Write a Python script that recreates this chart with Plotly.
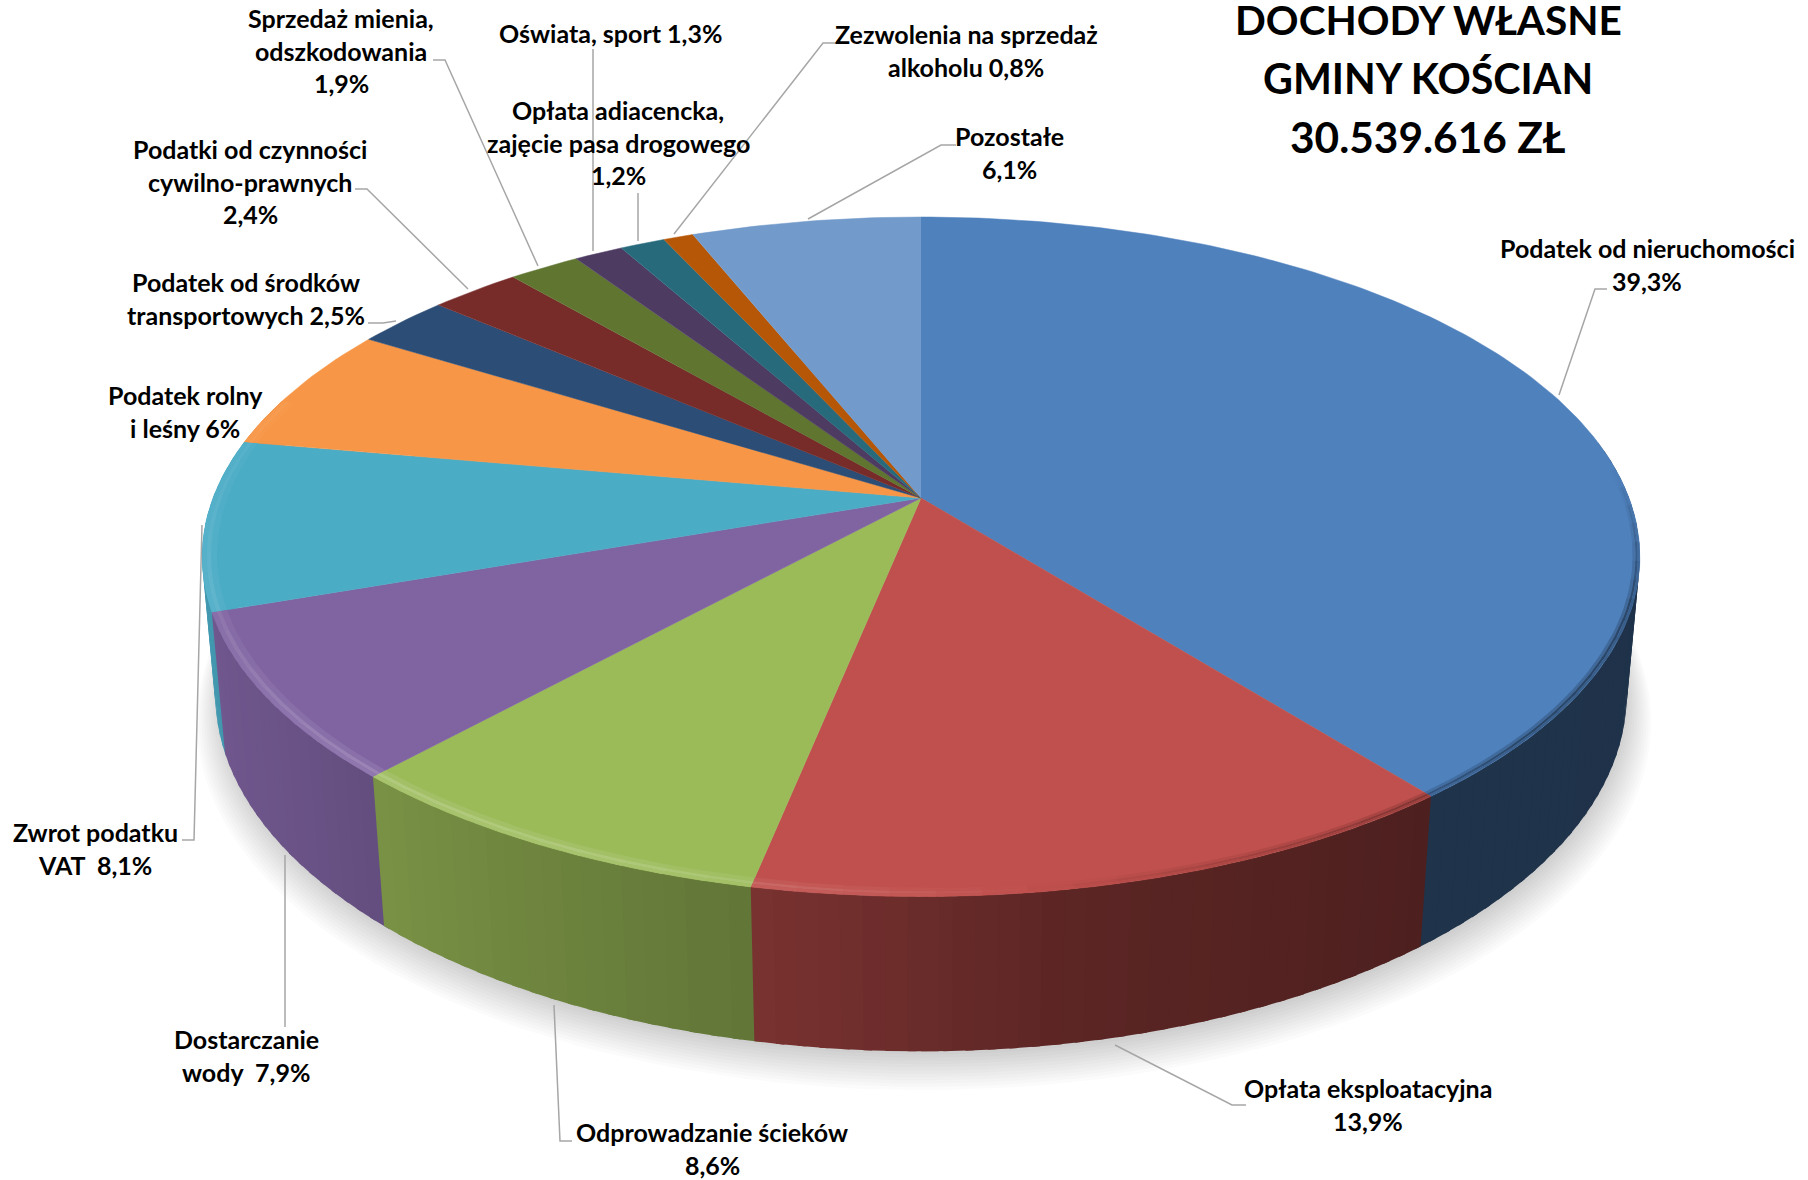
import numpy as np
import plotly.graph_objects as go

categories = ["Podatek od nieruchomości", "Opłata eksploatacyjna", "Odprowadzanie ścieków",
              "Dostarczanie wody", "Zwrot podatku VAT", "Podatek rolny i leśny",
              "Podatek od środków transportowych", "Podatki od czynności cywilno-prawnych",
              "Sprzedaż mienia, odszkodowania", "Oświata, sport",
              "Opłata adiacencka, zajęcie pasa drogowego", "Zezwolenia na sprzedaż alkoholu", "Pozostałe"]
values = [39.3, 13.9, 8.6, 7.9, 8.1, 6.0, 2.5, 2.4, 1.9, 1.3, 1.2, 0.8, 6.1]
colors = ["#4F81BD", "#C0504D", "#9BBB59", "#8064A2", "#4BACC6", "#F79646", "#2C4D75",
          "#772C2A", "#5F7530", "#4D3B62", "#276A7C", "#B65708", "#729ACA"]
title_lines = ["DOCHODY WŁASNE", "GMINY KOŚCIAN", "30.539.616 ZŁ"]
label_lines = [
    ["Podatek od nieruchomości", "39,3%"], ["Opłata eksploatacyjna", "13,9%"],
    ["Odprowadzanie ścieków", "8,6%"], ["Dostarczanie", "wody  7,9%"],
    ["Zwrot podatku", "VAT  8,1%"], ["Podatek rolny", "i leśny 6%"],
    ["Podatek od środków", "transportowych 2,5%"], ["Podatki od czynności", "cywilno-prawnych", "2,4%"],
    ["Sprzedaż mienia,", "odszkodowania", "1,9%"], ["Oświata, sport 1,3%"],
    ["Opłata adiacencka,", "zajęcie pasa drogowego", "1,2%"], ["Zezwolenia na sprzedaż", "alkoholu 0,8%"],
    ["Pozostałe", "6,1%"]]

# ---- layout only (page pixels) ----
label_x = [1647, 1368, 712, 246, 95, 185, 246, 250, 341, 610, 618, 966, 1009]
label_y0 = [248, 1088, 1132, 1039, 832, 395, 282, 149, 18, 33, 110, 34, 136]
LINE_H = 32.5
title_x = [1428, 1428, 1428]
title_y = [19.5, 78, 136]
title_size = [40.6, 41.2, 42.4]
leaders = [
    [(1607, 289), (1595, 289), (1559, 395)], [(1246, 1105), (1232, 1105), (1115, 1045)],
    [(572, 1141), (560, 1141), (554, 1005)], [(285, 1027), (285, 855)],
    [(182, 840), (194, 840), (202, 525)], None,
    [(368, 323), (383, 323), (396, 321)], [(355, 189), (367, 189), (468, 289)],
    [(433, 60), (445, 60), (538, 266)], [(593, 49), (593, 251)],
    [(638, 193), (638, 241)], [(837, 43), (823, 43), (674, 234)],
    [(956, 145), (941, 145), (808, 219)]]
CX, CY, A, B, K, C, M = 921, 498, 708, 329.6, 0.173, 138, 0.018


def project(theta_deg, r=1.0, h=0.0):
    """Perspective view of a disc: theta clockwise from the top, h = depth below the face."""
    t = np.radians(theta_deg)
    u, w = r * np.sin(t), r * np.cos(t)
    d = 1 + K * w + M * h
    return CX + A * u / d, CY + (-B * w + C * h) / d


def hex_rgb(c):
    return np.array([int(c[i:i + 2], 16) for i in (1, 3, 5)], float)


def mix(c, factor):
    """factor<1 darkens, factor>1 lightens toward white."""
    rgb = hex_rgb(c)
    rgb = rgb * factor if factor <= 1 else rgb + (255 - rgb) * (factor - 1)
    return "rgb(%d,%d,%d)" % tuple(np.clip(rgb, 0, 255))


def poly(x, y, color, line=0.0):
    fig.add_trace(go.Scatter(x=list(x), y=list(y), mode="lines", fill="toself", fillcolor=color,
                             line=dict(color=color, width=line), hoverinfo="skip", showlegend=False))


fig = go.Figure()
edges = np.concatenate([[0], np.cumsum(values)]) / sum(values) * 360

# soft shadow under the disc
ta = np.linspace(0, 360, 181)
for i in range(14):
    sx, sy = project(ta, r=1.0 + 0.0032 * (13 - i) - 0.012, h=1.0)
    poly(sx + 3, sy + 3 + 1.6 * (13 - i), "rgba(0,0,0,0.015)")

# side wall, lit from the lower left
shade_t = [80, 100, 141, 170, 191, 222, 235, 251, 290]
shade_f = [0.39, 0.39, 0.40, 0.48, 0.63, 0.78, 0.84, 0.88, 0.95]
strips = []
for j, col in enumerate(colors):
    lo, hi = max(edges[j], 80), min(edges[j + 1], 288)
    if hi <= lo:
        continue
    g = np.linspace(lo, hi, max(1, int((hi - lo) / 1.5)) + 1)
    for p, q in zip(g[:-1], g[1:]):
        strips.append((p, q, col))
strips.sort(key=lambda s: -abs((s[0] + s[1]) / 2 - 180))
for p, q, col in strips:
    mid = (p + q) / 2
    # run slightly under the strip painted next, so no seam shows
    p2, q2 = (p, q + 0.6) if mid < 180 else (p - 0.6, q)
    g = np.linspace(p2, q2, 3)
    tx, ty = project(g)
    bx, by = project(g, h=1.0)
    poly(np.r_[tx, bx[::-1]], np.r_[ty, by[::-1]], mix(col, float(np.interp(mid, shade_t, shade_f))))

# flat face
for j, col in enumerate(colors):
    g = np.linspace(edges[j], edges[j + 1], max(3, int(values[j] * 4)))
    x, y = project(g)
    poly(np.r_[CX, x], np.r_[CY, y], col, line=0.5)

# bevel along the front rim: highlight on the left, thin dark blur on the right
rings = [(0.020, 0.012, 0.4), (0.012, 0.006, 1.0), (0.006, 0.0, 0.6)]
gain_t = [85, 108, 130, 150, 180, 190, 200, 222, 251, 290]
gain_v = [1.0, 0.55, 0.55, 0.75, 1.08, 1.14, 1.20, 1.22, 1.12, 1.05]
width_t = [85, 150, 190]
width_v = [0.45, 0.6, 1.0]
for j, col in enumerate(colors):
    lo, hi = max(edges[j], 85), min(edges[j + 1], 288)
    if hi <= lo:
        continue
    g = np.linspace(lo, hi, max(2, int((hi - lo) / 3) + 1))
    for p, q in zip(g[:-1], g[1:]):
        mid = (p + q) / 2
        wide = float(np.interp(mid, width_t, width_v))
        for d0, d1, weight in rings:
            s = np.linspace(p, min(q + 0.5, hi), 3)
            x0, y0 = project(s, r=1 - d0 * wide)
            x1, y1 = project(s, r=1 - d1 * wide)
            gain = float(np.interp(mid, gain_t, gain_v))
            gain = 1 + (gain - 1) * weight
            poly(np.r_[x0, x1[::-1]], np.r_[y0, y1[::-1]], mix(col, gain))

annotations = []
for tx, ty, ts, txt in zip(title_x, title_y, title_size, title_lines):
    annotations.append(dict(x=tx, y=ty, text="<b>%s</b>" % txt, showarrow=False, xanchor="center",
                            yanchor="middle", borderpad=0,
                            font=dict(family="Lato", size=ts, color="#000000")))
for lines, lx, ly in zip(label_lines, label_x, label_y0):
    for i, txt in enumerate(lines):
        annotations.append(dict(x=lx, y=ly + i * LINE_H, text="<b>%s</b>" % txt.replace("  ", "\u00a0 "),
                                showarrow=False, xanchor="center", yanchor="middle", borderpad=0,
                                font=dict(family="Lato", size=25, color="#000000")))

shapes = []
for pts in leaders:
    if pts:
        path = "M " + " L ".join("%g,%g" % p for p in pts)
        shapes.append(dict(type="path", path=path, xref="x", yref="y", layer="above",
                           line=dict(color="#A6A6A6", width=1.5)))

fig.update_layout(width=1808, height=1180, margin=dict(l=0, r=0, t=0, b=0), showlegend=False,
                  paper_bgcolor="white", plot_bgcolor="white", annotations=annotations, shapes=shapes,
                  xaxis=dict(range=[0, 1808], visible=False, fixedrange=True),
                  yaxis=dict(range=[1180, 0], visible=False, fixedrange=True))
fig.write_html("out.html", config=dict(displayModeBar=False),
               post_script="document.body.style.margin='0';document.body.style.overflow='hidden';")
